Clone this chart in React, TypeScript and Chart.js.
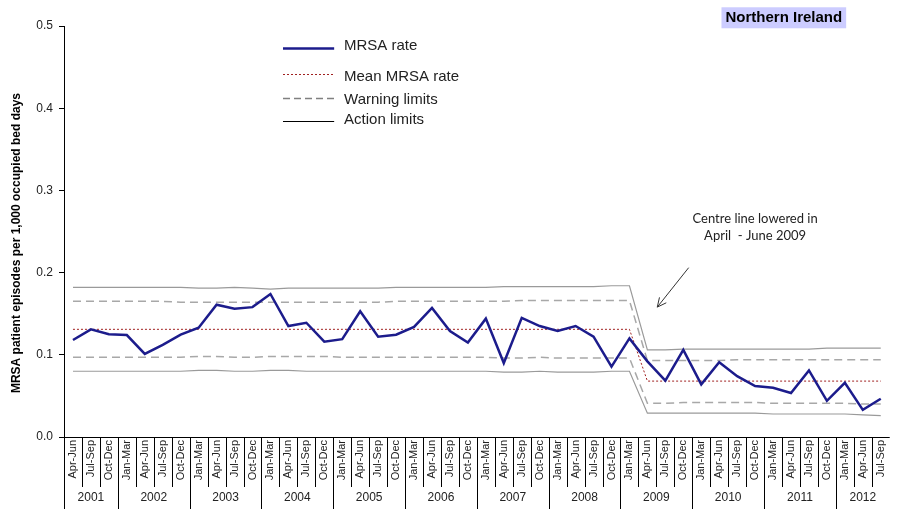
import React, { useEffect, useRef } from "react";
import { Chart, registerables } from "chart.js";

Chart.register(...registerables);

const quarters: string[] = [
  "Apr-Jun", "Jul-Sep", "Oct-Dec",
  "Jan-Mar", "Apr-Jun", "Jul-Sep", "Oct-Dec",
  "Jan-Mar", "Apr-Jun", "Jul-Sep", "Oct-Dec",
  "Jan-Mar", "Apr-Jun", "Jul-Sep", "Oct-Dec",
  "Jan-Mar", "Apr-Jun", "Jul-Sep", "Oct-Dec",
  "Jan-Mar", "Apr-Jun", "Jul-Sep", "Oct-Dec",
  "Jan-Mar", "Apr-Jun", "Jul-Sep", "Oct-Dec",
  "Jan-Mar", "Apr-Jun", "Jul-Sep", "Oct-Dec",
  "Jan-Mar", "Apr-Jun", "Jul-Sep", "Oct-Dec",
  "Jan-Mar", "Apr-Jun", "Jul-Sep", "Oct-Dec",
  "Jan-Mar", "Apr-Jun", "Jul-Sep", "Oct-Dec",
  "Jan-Mar", "Apr-Jun", "Jul-Sep",
];

const years: string[] = ["2001", "2002", "2003", "2004", "2005", "2006", "2007", "2008", "2009", "2010", "2011", "2012"];
const quartersPerYear: number[] = [3, 4, 4, 4, 4, 4, 4, 4, 4, 4, 4, 3];

const mrsaRate: number[] = [
  0.118, 0.131, 0.125,
  0.124, 0.101, 0.112, 0.1245,
  0.133, 0.161, 0.156, 0.158,
  0.174, 0.135, 0.139, 0.116,
  0.119, 0.153, 0.122, 0.1245,
  0.134, 0.157, 0.129, 0.115,
  0.144, 0.090, 0.145, 0.135,
  0.129, 0.135, 0.122, 0.0855,
  0.120, 0.092, 0.0685, 0.106,
  0.064, 0.091, 0.074, 0.062,
  0.060, 0.0535, 0.081, 0.044,
  0.066, 0.033, 0.0465,
];

const meanRate: number[] = [
  0.131, 0.131, 0.131,
  0.131, 0.131, 0.131, 0.131,
  0.131, 0.131, 0.131, 0.131,
  0.131, 0.131, 0.131, 0.131,
  0.131, 0.131, 0.131, 0.131,
  0.131, 0.131, 0.131, 0.131,
  0.131, 0.131, 0.131, 0.131,
  0.131, 0.131, 0.131, 0.131,
  0.131, 0.068, 0.068, 0.068,
  0.068, 0.068, 0.068, 0.068,
  0.068, 0.068, 0.068, 0.068,
  0.068, 0.068, 0.068,
];

const upperWarning: number[] = [
  0.165, 0.165, 0.165,
  0.165, 0.165, 0.165, 0.164,
  0.164, 0.164, 0.164, 0.164,
  0.164, 0.164, 0.164, 0.164,
  0.164, 0.164, 0.164, 0.165,
  0.165, 0.165, 0.165, 0.165,
  0.165, 0.165, 0.166, 0.166,
  0.166, 0.166, 0.166, 0.166,
  0.166, 0.093, 0.093, 0.093,
  0.093, 0.093, 0.094, 0.094,
  0.094, 0.094, 0.094, 0.094,
  0.094, 0.094, 0.094,
];

const lowerWarning: number[] = [
  0.097, 0.097, 0.097,
  0.097, 0.097, 0.097, 0.097,
  0.098, 0.098, 0.097, 0.097,
  0.098, 0.098, 0.098, 0.098,
  0.097, 0.097, 0.097, 0.097,
  0.097, 0.097, 0.097, 0.097,
  0.097, 0.096, 0.096, 0.097,
  0.096, 0.096, 0.096, 0.096,
  0.096, 0.041, 0.041, 0.042,
  0.042, 0.042, 0.042, 0.042,
  0.041, 0.041, 0.041, 0.041,
  0.041, 0.040, 0.040,
];

const upperAction: number[] = [
  0.182, 0.182, 0.182,
  0.182, 0.182, 0.182, 0.182,
  0.181, 0.181, 0.182, 0.181,
  0.180, 0.181, 0.181, 0.181,
  0.181, 0.181, 0.181, 0.182,
  0.182, 0.182, 0.182, 0.182,
  0.182, 0.183, 0.183, 0.183,
  0.183, 0.183, 0.183, 0.184,
  0.184, 0.106, 0.106, 0.107,
  0.107, 0.107, 0.107, 0.107,
  0.107, 0.107, 0.107, 0.108,
  0.108, 0.108, 0.108,
];

const lowerAction: number[] = [
  0.080, 0.080, 0.080,
  0.080, 0.080, 0.080, 0.080,
  0.081, 0.081, 0.080, 0.080,
  0.081, 0.081, 0.080, 0.080,
  0.080, 0.080, 0.080, 0.080,
  0.080, 0.080, 0.080, 0.080,
  0.080, 0.079, 0.079, 0.080,
  0.079, 0.079, 0.079, 0.080,
  0.080, 0.029, 0.029, 0.029,
  0.029, 0.029, 0.029, 0.029,
  0.028, 0.028, 0.028, 0.028,
  0.028, 0.027, 0.026,
];

const yTicks: number[] = [0, 0.1, 0.2, 0.3, 0.4, 0.5];

const legendItems = [
  { label: "MRSA rate", color: "#1c1c8c", width: 2.5, dash: [] as number[] },
  { label: "Mean MRSA rate", color: "#a02020", width: 1, dash: [2, 2] },
  { label: "Warning limits", color: "#808080", width: 1.5, dash: [7, 4] },
  { label: "Action limits", color: "#000000", width: 1.2, dash: [] as number[] },
];

const yTitle = "MRSA patient episodes per 1,000 occupied bed days";

const overlayPlugin = {
  id: "overlay",
  afterDraw(chart: any) {
    const ctx = chart.ctx as CanvasRenderingContext2D;
    const area = chart.chartArea;
    const xs = chart.scales.x;
    const ys = chart.scales.y;
    ctx.save();

    // x axis line
    ctx.strokeStyle = "#000";
    ctx.lineWidth = 1;
    ctx.setLineDash([]);
    const by = Math.round(area.bottom) + 0.5;
    ctx.beginPath();
    ctx.moveTo(area.left, by);
    ctx.lineTo(area.right, by);
    ctx.stroke();

    // y axis extension down through the label rows
    const lx = Math.round(area.left) + 0.5;
    ctx.beginPath();
    ctx.moveTo(lx, area.bottom);
    ctx.lineTo(lx, chart.height);
    ctx.stroke();

    // quarter and year separators
    const yearStarts: number[] = [];
    let acc = 0;
    for (let k = 0; k < quartersPerYear.length; k++) {
      yearStarts.push(acc);
      acc += quartersPerYear[k];
    }
    for (let i = 0; i < quarters.length - 1; i++) {
      const x = Math.round((xs.getPixelForValue(i) + xs.getPixelForValue(i + 1)) / 2) + 0.5;
      const isYear = yearStarts.indexOf(i + 1) >= 0;
      ctx.beginPath();
      ctx.moveTo(x, area.bottom);
      ctx.lineTo(x, isYear ? chart.height : area.bottom + 50);
      ctx.stroke();
    }

    // year labels
    ctx.fillStyle = "#222";
    ctx.font = "12px Arial, 'Liberation Sans', sans-serif";
    ctx.textAlign = "center";
    ctx.textBaseline = "middle";
    for (let k = 0; k < years.length; k++) {
      const s = yearStarts[k];
      const e = s + quartersPerYear[k] - 1;
      const cx = (xs.getPixelForValue(s) + xs.getPixelForValue(e)) / 2;
      ctx.fillText(years[k], cx, area.bottom + 61);
    }

    // y axis title
    ctx.save();
    ctx.translate(17, ys.getPixelForValue(0.236));
    ctx.rotate(-Math.PI / 2);
    ctx.font = "bold 12px Arial, 'Liberation Sans', sans-serif";
    ctx.fillStyle = "#000";
    ctx.textAlign = "center";
    ctx.fillText(yTitle, 0, 0);
    ctx.restore();

    // legend
    const lx0 = xs.getPixelForValue(11.7);
    const lx1 = xs.getPixelForValue(14.55);
    const tx = xs.getPixelForValue(15.1);
    const rowsLine = [0.473, 0.442, 0.413, 0.384];
    const rowsText = [0.476, 0.438, 0.410, 0.386];
    ctx.textAlign = "left";
    ctx.font = "15px Arial, 'Liberation Sans', sans-serif";
    legendItems.forEach((it, i) => {
      const ly = Math.round(ys.getPixelForValue(rowsLine[i])) + 0.5;
      ctx.strokeStyle = it.color;
      ctx.lineWidth = it.width;
      ctx.setLineDash(it.dash);
      ctx.beginPath();
      ctx.moveTo(lx0, ly);
      ctx.lineTo(lx1, ly);
      ctx.stroke();
      ctx.fillStyle = "#222";
      ctx.fillText(it.label, tx, ys.getPixelForValue(rowsText[i]));
    });
    ctx.setLineDash([]);

    // Northern Ireland box
    ctx.font = "bold 15px Arial, 'Liberation Sans', sans-serif";
    const title = "Northern Ireland";
    const tw = ctx.measureText(title).width;
    const bcx = xs.getPixelForValue(39.6);
    const bcy = ys.getPixelForValue(0.51);
    ctx.fillStyle = "#ccccff";
    ctx.fillRect(bcx - tw / 2 - 4, bcy - 10.5, tw + 8, 21);
    ctx.fillStyle = "#000";
    ctx.textAlign = "center";
    ctx.fillText(title, bcx, bcy + 0.5);

    // annotation
    ctx.font = "13px Lato, 'Open Sans', sans-serif";
    ctx.fillStyle = "#222";
    const ax = xs.getPixelForValue(38);
    ctx.fillText("Centre line lowered in", ax, ys.getPixelForValue(0.266));
    ctx.fillText("April  - June 2009", ax, ys.getPixelForValue(0.245));

    // arrow
    const sx = xs.getPixelForValue(34.3);
    const sy = ys.getPixelForValue(0.206);
    const ex = xs.getPixelForValue(32.55);
    const ey = ys.getPixelForValue(0.158);
    ctx.strokeStyle = "#333";
    ctx.lineWidth = 1;
    ctx.beginPath();
    ctx.moveTo(sx, sy);
    ctx.lineTo(ex, ey);
    ctx.stroke();
    const ang = Math.atan2(ey - sy, ex - sx);
    const hl = 10;
    ctx.beginPath();
    ctx.moveTo(ex + hl * Math.cos(ang + Math.PI - 0.45), ey + hl * Math.sin(ang + Math.PI - 0.45));
    ctx.lineTo(ex, ey);
    ctx.lineTo(ex + hl * Math.cos(ang + Math.PI + 0.45), ey + hl * Math.sin(ang + Math.PI + 0.45));
    ctx.stroke();

    ctx.restore();
  },
};

export default function App() {
  const ref = useRef<HTMLCanvasElement | null>(null);

  useEffect(() => {
    if (!ref.current) return;
    const chart = new Chart(ref.current, {
      type: "line",
      data: {
        labels: quarters,
        datasets: [
          { label: "MRSA rate", data: mrsaRate, borderColor: "#1c1c8c", borderWidth: 2.5, pointRadius: 0, tension: 0, fill: false },
          { label: "Mean MRSA rate", data: meanRate, borderColor: "#a02020", borderWidth: 1, borderDash: [2, 2], pointRadius: 0, tension: 0, fill: false },
          { label: "Upper warning", data: upperWarning, borderColor: "#a8a8a8", borderWidth: 1.5, borderDash: [8, 5], pointRadius: 0, tension: 0, fill: false },
          { label: "Lower warning", data: lowerWarning, borderColor: "#a8a8a8", borderWidth: 1.5, borderDash: [8, 5], pointRadius: 0, tension: 0, fill: false },
          { label: "Upper action", data: upperAction, borderColor: "#9a9a9a", borderWidth: 1.2, pointRadius: 0, tension: 0, fill: false },
          { label: "Lower action", data: lowerAction, borderColor: "#9a9a9a", borderWidth: 1.2, pointRadius: 0, tension: 0, fill: false },
        ],
      },
      options: {
        responsive: false,
        animation: false,
        devicePixelRatio: 1,
        layout: { padding: { top: 26, right: 4, left: 0, bottom: 0 } },
        plugins: {
          legend: { display: false },
          tooltip: { enabled: false },
        },
        scales: {
          x: {
            type: "category",
            offset: true,
            grid: { display: false, drawTicks: false },
            border: { display: false },
            ticks: {
              autoSkip: false,
              maxRotation: 90,
              minRotation: 90,
              padding: 3,
              color: "#222",
              font: { family: "Arial, 'Liberation Sans', sans-serif", size: 11 },
            },
            afterFit: (s: any) => { s.height = 72; },
          },
          y: {
            min: 0,
            max: 0.5,
            afterBuildTicks: (s: any) => { s.ticks = yTicks.map((v) => ({ value: v })); },
            ticks: {
              color: "#222",
              padding: 6,
              font: { family: "Arial, 'Liberation Sans', sans-serif", size: 12 },
              callback: (v: any) => Number(v).toFixed(1),
            },
            grid: { drawOnChartArea: false, drawTicks: true, tickLength: 5, color: "#000" },
            border: { display: true, color: "#000", width: 1 },
            title: { display: false },
            afterFit: (s: any) => { s.width = 64; },
          },
        },
      },
      plugins: [overlayPlugin],
    } as any);
    return () => chart.destroy();
  }, []);

  return (
    <div style={{ position: "fixed", left: 0, top: 0, width: 897, height: 509, background: "#fff" }}>
      <canvas ref={ref} width={897} height={509} style={{ width: 897, height: 509, display: "block" }} />
    </div>
  );
}
